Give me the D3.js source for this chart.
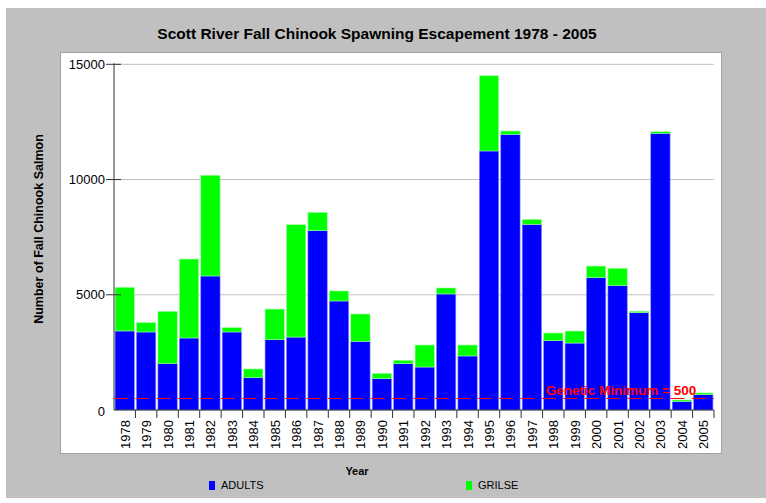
<!DOCTYPE html>
<html>
<head>
<meta charset="utf-8">
<script src="https://cdn.jsdelivr.net/npm/d3@7/dist/d3.min.js"></script>
<style>
  html, body { margin: 0; padding: 0; background: #ffffff; }
  svg { display: block; font-family: "Liberation Sans", Arial, sans-serif; }
</style>
</head>
<body>
<svg id="chart" width="766" height="503"></svg>
<script>
const years = ["1978","1979","1980","1981","1982","1983","1984","1985","1986","1987",
  "1988","1989","1990","1991","1992","1993","1994","1995","1996","1997",
  "1998","1999","2000","2001","2002","2003","2004","2005"];
const adults = [3430,3385,2010,3125,5815,3385,1405,3050,3165,7780,
  4730,2980,1360,2010,1865,5035,2345,11240,11960,8055,
  3010,2905,5740,5395,4225,12005,375,665];
const grilse = [1895,405,2270,3425,4370,190,375,1330,4875,795,
  435,1185,230,145,955,260,475,3265,145,215,
  330,520,505,755,60,70,60,75];
const yTicks = [0, 5000, 10000, 15000];
const geneticMinimum = 500;
const seriesNames = ["ADULTS", "GRILSE"];
const seriesColors = ["#0000ff", "#00ff00"];

const svg = d3.select("#chart");

// backgrounds
svg.append("rect").attr("x", 6).attr("y", 8).attr("width", 760).attr("height", 490).attr("fill", "#c0c0c0");
svg.append("rect").attr("x", 60.5).attr("y", 52.5).attr("width", 661).attr("height", 401)
  .attr("fill", "#ffffff").attr("stroke", "#a0a0a0").attr("stroke-width", 1);

const pLeft = 114, pRight = 714, pTop = 64.3, pBottom = 410;

const x = d3.scaleBand().domain(years).range([pLeft, pRight]).paddingInner(0.1).paddingOuter(0.05);
const y = d3.scaleLinear().domain([0, 15000]).range([pBottom, pTop]);

// gridlines
svg.append("g").selectAll("line").data(yTicks.filter(d => d > 0)).join("line")
  .attr("x1", pLeft).attr("x2", pRight)
  .attr("y1", d => y(d)).attr("y2", d => y(d))
  .attr("stroke", "#c0c0c0").attr("stroke-width", 1);

// stacked data
const rows = years.map((yr, i) => ({ year: yr, ADULTS: adults[i], GRILSE: grilse[i] }));
const stack = d3.stack().keys(seriesNames)(rows);
const edgeColors = ["#8080ff", "#a0ffa0"];

svg.append("g").selectAll("g").data(stack).join("g")
  .attr("fill", (d, i) => seriesColors[i])
  .attr("stroke", (d, i) => edgeColors[i])
  .attr("stroke-width", 0.6)
  .selectAll("rect").data(d => d).join("rect")
  .attr("x", d => x(d.data.year))
  .attr("width", x.bandwidth())
  .attr("y", d => y(d[1]))
  .attr("height", d => y(d[0]) - y(d[1]));

// genetic minimum line
svg.append("line")
  .attr("x1", pLeft).attr("x2", pRight)
  .attr("y1", y(geneticMinimum)).attr("y2", y(geneticMinimum))
  .attr("stroke", "#ff0000").attr("stroke-width", 1)
  .attr("stroke-dasharray", "14,7.4");

svg.append("text")
  .attr("x", 621).attr("y", y(geneticMinimum) - 3)
  .attr("text-anchor", "middle")
  .attr("font-size", 13.5).attr("font-weight", "bold")
  .attr("fill", "#ff0000")
  .text("Genetic Minimum = " + geneticMinimum);

// y axis
const yAxis = svg.append("g");
yAxis.append("line").attr("x1", pLeft).attr("x2", pLeft).attr("y1", pTop - 1).attr("y2", pBottom)
  .attr("stroke", "#333").attr("stroke-width", 1);
yAxis.selectAll("line.tick").data(yTicks.filter(d => d > 0)).join("line").attr("class", "tick")
  .attr("x1", pLeft - 8).attr("x2", pLeft + 7)
  .attr("y1", d => y(d)).attr("y2", d => y(d))
  .attr("stroke", "#333");
yAxis.selectAll("text").data(yTicks).join("text")
  .attr("x", pLeft - 9)
  .attr("y", d => y(d) + (d === 0 ? 1 : 0))
  .attr("dy", "0.35em")
  .attr("text-anchor", "end")
  .attr("font-size", 13).attr("fill", "#000")
  .text(d => d);

// x axis
const xAxis = svg.append("g");
xAxis.append("line").attr("x1", pLeft).attr("x2", pRight).attr("y1", pBottom).attr("y2", pBottom)
  .attr("stroke", "#333");
const step = x.step();
const boundaries = years.map(d => x(d) + x.bandwidth() + step * x.paddingInner() / 2);
xAxis.selectAll("line.tick").data(boundaries).join("line").attr("class", "tick")
  .attr("x1", d => d).attr("x2", d => d)
  .attr("y1", pBottom).attr("y2", pBottom + 8)
  .attr("stroke", "#333");
xAxis.selectAll("text").data(years).join("text")
  .attr("transform", d => `translate(${x(d) + x.bandwidth() / 2 + 0.5},${pBottom + 10}) rotate(-90)`)
  .attr("text-anchor", "end")
  .attr("dy", "0.35em")
  .attr("font-size", 13).attr("fill", "#000")
  .text(d => d);

// title
svg.append("text").attr("x", 377).attr("y", 39)
  .attr("text-anchor", "middle").attr("font-size", 15.5).attr("font-weight", "bold")
  .text("Scott River Fall Chinook Spawning Escapement 1978 - 2005");

// axis titles
svg.append("text")
  .attr("transform", "translate(43,229) rotate(-90)")
  .attr("text-anchor", "middle").attr("font-size", 12.5).attr("font-weight", "bold")
  .text("Number of Fall Chinook Salmon");
svg.append("text").attr("x", 357).attr("y", 475)
  .attr("text-anchor", "middle").attr("font-size", 11).attr("font-weight", "bold")
  .text("Year");

// legend
const legendX = [209, 466];
const lg = svg.append("g").selectAll("g").data(seriesNames).join("g")
  .attr("transform", (d, i) => `translate(${legendX[i]},481)`);
lg.append("rect").attr("width", 6).attr("height", 9).attr("fill", (d, i) => seriesColors[i]);
lg.append("text").attr("x", 12).attr("y", 4.5).attr("dy", "0.35em")
  .attr("font-size", 11).attr("fill", "#000").text(d => d);
</script>
</body>
</html>
